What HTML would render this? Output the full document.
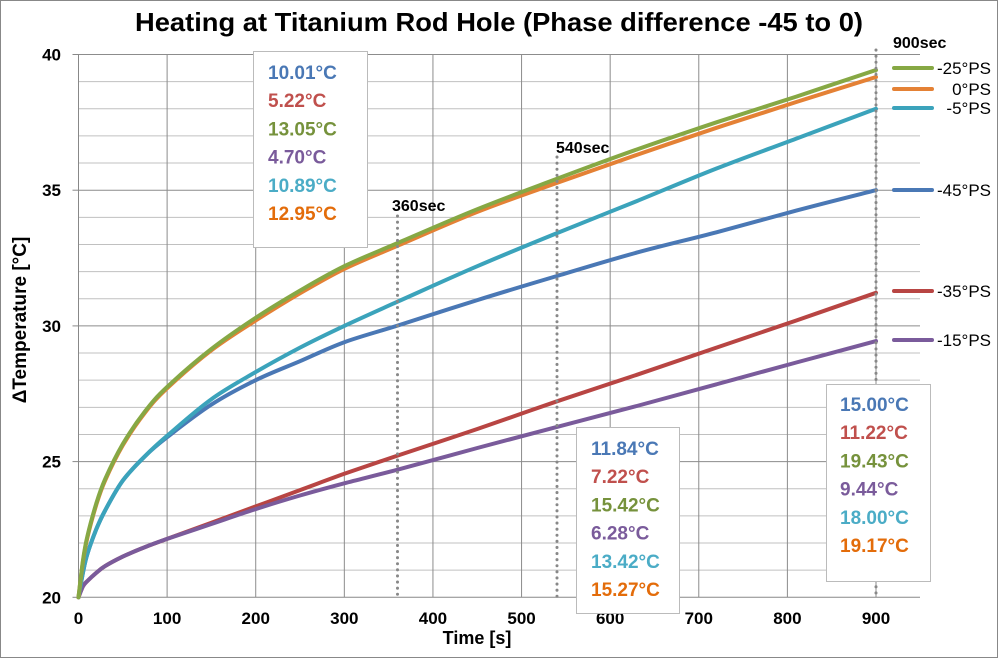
<!DOCTYPE html>
<html><head><meta charset="utf-8"><style>
body{margin:0;background:#fff;}
svg text{font-family:"Liberation Sans",sans-serif;}
</style></head><body>
<svg width="998" height="658" viewBox="0 0 998 658">
<rect x="0.5" y="0.5" width="997" height="657" fill="#fff" stroke="#888"/>
<text x="499" y="31" text-anchor="middle" font-size="26" font-weight="bold" textLength="728" lengthAdjust="spacingAndGlyphs">Heating at Titanium Rod Hole (Phase difference -45 to 0)</text>
<g id="grid"></g>
<g id="axes"></g>
<g id="series"></g>
<g id="ann"></g>
<text x="26" y="320" transform="rotate(-90 26 320)" text-anchor="middle" font-size="19" font-weight="bold">ΔTemperature [°C]</text>
<text x="477" y="644" text-anchor="middle" font-size="18" font-weight="bold">Time [s]</text>
</svg>
<script>
const times=[0,5,10,20,30,50,75,100,150,200,250,300,360,450,540,630,720,810,900];
const s45=[20,20.9,21.6,22.5,23.2,24.3,25.2,25.9,27.1,28.0,28.7,29.4,30.01,30.95,31.84,32.7,33.45,34.25,35.0];
const s35=[20,20.4,20.6,20.9,21.15,21.5,21.85,22.15,22.75,23.35,23.95,24.55,25.22,26.2,27.22,28.2,29.2,30.2,31.22];
const s25=[20,21.35,22.25,23.45,24.35,25.65,26.85,27.75,29.15,30.3,31.3,32.2,33.05,34.3,35.42,36.5,37.5,38.45,39.43];
const s15=[20,20.4,20.6,20.9,21.15,21.5,21.85,22.15,22.7,23.25,23.75,24.2,24.70,25.5,26.28,27.05,27.85,28.65,29.44];
const s5=[20,20.9,21.6,22.5,23.2,24.3,25.2,25.95,27.3,28.3,29.2,30.0,30.89,32.2,33.42,34.6,35.8,36.9,38.0];
const s0=[20,21.3,22.2,23.4,24.3,25.6,26.8,27.7,29.1,30.2,31.2,32.1,32.95,34.2,35.27,36.3,37.3,38.25,39.17];
const xTicks=[0,100,200,300,400,500,600,700,800,900];
const yTicks=[20,25,30,35,40];
const markers=[360,540,900];
const boxVals360=["10.01°C","5.22°C","13.05°C","4.70°C","10.89°C","12.95°C"];
const boxVals540=["11.84°C","7.22°C","15.42°C","6.28°C","13.42°C","15.27°C"];
const boxVals900=["15.00°C","11.22°C","19.43°C","9.44°C","18.00°C","19.17°C"];
const NS="http://www.w3.org/2000/svg";
const X=t=>78.5+t*(876-78.5)/900;
const Y=v=>597.3-(v-20)*(597.3-54.5)/20;
function mk(tag,attrs,parent,txt){const e=document.createElementNS(NS,tag);for(const k in attrs)e.setAttribute(k,attrs[k]);if(txt!==undefined)e.textContent=txt;document.getElementById(parent).appendChild(e);return e;}
function smoothPath(pts){
 let d='M'+pts[0][0].toFixed(1)+' '+pts[0][1].toFixed(1);
 for(let i=0;i<pts.length-1;i++){
  const p0=pts[Math.max(0,i-1)],p1=pts[i],p2=pts[i+1],p3=pts[Math.min(pts.length-1,i+2)];
  const c1x=p1[0]+(p2[0]-p0[0])/6,c1y=p1[1]+(p2[1]-p0[1])/6;
  const c2x=p2[0]-(p3[0]-p1[0])/6,c2y=p2[1]-(p3[1]-p1[1])/6;
  d+=' C'+c1x.toFixed(1)+' '+c1y.toFixed(1)+' '+c2x.toFixed(1)+' '+c2y.toFixed(1)+' '+p2[0].toFixed(1)+' '+p2[1].toFixed(1);
 }
 return d;
}
for(let v=21;v<=40;v++){const e=mk('line',{x1:X(0),x2:920,y1:Y(v),y2:Y(v),stroke:v%5==0?'#8c8c8c':'#c0c0c0','stroke-width':1},'grid');

}
for(const t of xTicks){if(t==0)continue;const e=mk('line',{x1:X(t),x2:X(t),y1:Y(40),y2:Y(20),stroke:'#8c8c8c','stroke-width':1},'grid');

}
let a=mk('line',{x1:X(0),x2:X(0),y1:Y(40),y2:Y(20),stroke:'#888'},'axes');


a=mk('line',{x1:X(0),x2:920,y1:Y(20),y2:Y(20),stroke:'#888'},'axes');


for(const v of yTicks){const e=mk('text',{x:61,y:Y(v)+6,'text-anchor':'end','font-size':17,'font-weight':'bold'},'axes',String(v));


const l=mk('line',{x1:X(0)-6,x2:X(0),y1:Y(v),y2:Y(v),stroke:'#888'},'axes');

}
for(const t of xTicks){const e=mk('text',{x:X(t),y:624,'text-anchor':'middle','font-size':17,'font-weight':'bold'},'axes',String(t));

}
const mTop={360:216,540:157,900:50};
for(const m of markers){const e=mk('line',{x1:X(m),x2:X(m),y1:mTop[m],y2:Y(20),stroke:'#888','stroke-width':3,'stroke-dasharray':'0.1 6','stroke-linecap':'round'},'ann');

}
let mt=mk('text',{x:392,y:211,'font-size':16,'font-weight':'bold'},'ann','360sec');


mt=mk('text',{x:556,y:153,'font-size':16,'font-weight':'bold'},'ann','540sec');


mt=mk('text',{x:893,y:48,'font-size':16,'font-weight':'bold'},'ann','900sec');


const ser=[["-45°PS",s45,"#4a78b5",190],["-35°PS",s35,"#b84543",291],["-15°PS",s15,"#7a5b9b",340],["-5°PS",s5,"#3ba3bb",108],["0°PS",s0,"#e48135",89],["-25°PS",s25,"#86a844",68]];
for(const [name,vals,col,ly] of ser){
 const pts=vals.map((v,i)=>[X(times[i]),Y(v)]);
 const p=mk('path',{d:smoothPath(pts),fill:'none',stroke:col,'stroke-width':4,'stroke-linejoin':'round','stroke-linecap':'round'},'series');
 
 
 const l=mk('line',{x1:894,x2:932,y1:ly,y2:ly,stroke:col,'stroke-width':4,'stroke-linecap':'round'},'ann');
 
 
 const t=mk('text',{x:991,y:ly+6,'text-anchor':'end','font-size':17},'ann',name);
 
 
}
const tcols=["#4a78b5","#c0504d","#76923c","#7a5b9b","#4bacc6","#e36c0a"];
function box(x,y,w,h,vals,tx,ty,nm){
 const r=mk('rect',{x:x,y:y,width:w,height:h,fill:'#fff',stroke:'#bbb'},'ann');
 
 
 vals.forEach((v,i)=>{const t=mk('text',{x:tx,y:ty+i*28.2+7,'font-size':19,'font-weight':'bold',fill:tcols[i]},'ann',v);
 
 });
}
box(253.5,51.5,114,196,boxVals360,268,72,'value-box-360');
box(576.5,427.5,103,186,boxVals540,591,448,'value-box-540');
box(826.5,384.5,104,197,boxVals900,840,404,'value-box-900');
</script>
</body></html>
